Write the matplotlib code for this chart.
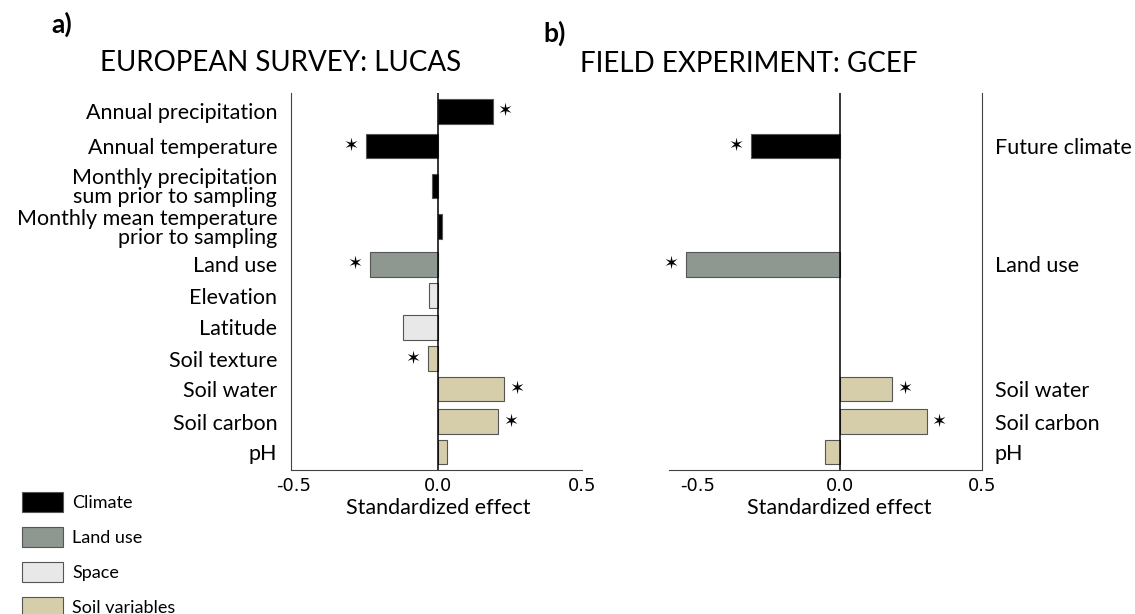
import matplotlib.pyplot as plt
from matplotlib.patches import Patch
from matplotlib.transforms import blended_transform_factory

plt.rcParams['font.family'] = ['Lato', 'DejaVu Sans']

# panel a: LUCAS survey
lucas_labels = ['Annual precipitation', 'Annual temperature',
                'Monthly precipitation\nsum prior to sampling',
                'Monthly mean temperature\nprior to sampling',
                'Land use', 'Elevation', 'Latitude', 'Soil texture',
                'Soil water', 'Soil carbon', 'pH']
lucas_effect = [0.19, -0.25, -0.02, 0.015, -0.235, -0.03, -0.12, -0.035, 0.23, 0.21, 0.03]
lucas_group = ['Climate', 'Climate', 'Climate', 'Climate', 'Land use', 'Space', 'Space',
               'Soil variables', 'Soil variables', 'Soil variables', 'Soil variables']
lucas_sig = [True, True, False, False, True, False, False, True, True, True, False]

# panel b: GCEF field experiment
gcef_labels = ['Future climate', 'Land use', 'Soil water', 'Soil carbon', 'pH']
gcef_effect = [-0.31, -0.54, 0.185, 0.305, -0.05]
gcef_group = ['Climate', 'Land use', 'Soil variables', 'Soil variables', 'Soil variables']
gcef_sig = [True, True, True, True, False]

# row layout (two-line labels get a bit more room)
lucas_rows = [0, 1.06, 2.27, 3.5, 4.64, 5.6, 6.55, 7.5, 8.42, 9.42, 10.33]
gcef_rows = [1.06, 4.64, 8.42, 9.42, 10.33]

colors = {'Climate': '#000000', 'Land use': '#8e9790',
          'Space': '#e8e8e8', 'Soil variables': '#d6ceaa'}

fig = plt.figure(figsize=(11.35, 6.14), dpi=100)
ax1 = fig.add_axes([0.2564, 0.2345, 0.2564, 0.614])
ax2 = fig.add_axes([0.5894, 0.2345, 0.2758, 0.614])


def draw(ax, rows, vals, groups, sig, xlim):
    ax.barh(rows, vals, height=0.75, color=[colors[g] for g in groups],
            edgecolor='#555555', linewidth=0.8, zorder=2)
    ax.axvline(0, color='black', lw=1.1, zorder=3)
    for r, v, s in zip(rows, vals, sig):
        if s:
            ax.annotate('✶', (v, r), xytext=(9 if v > 0 else -11, 0),
                        textcoords='offset points', ha='center', va='center',
                        fontsize=13, family='DejaVu Sans')
    ax.set_xlim(*xlim)
    ax.set_ylim(10.88, -0.55)
    ax.set_xticks([-0.5, 0.0, 0.5])
    ax.set_xticklabels(['-0.5', '0.0', '0.5'], family='DejaVu Sans', fontsize=13)
    ax.tick_params(length=0, pad=5)
    ax.spines['top'].set_visible(False)
    for sp in ax.spines.values():
        sp.set_color('#444444')
    tr = blended_transform_factory(ax.transData, ax.transAxes)
    ax.text(0, -0.1, 'Standardized effect', transform=tr, ha='center', va='center',
            fontsize=15.5)


draw(ax1, lucas_rows, lucas_effect, lucas_group, lucas_sig, (-0.51, 0.5))
ax1.spines['right'].set_visible(False)
ax1.set_yticks(lucas_rows)
ax1.set_yticklabels(lucas_labels, fontsize=15.5, linespacing=0.95)
ax1.tick_params(axis='y', pad=10)

draw(ax2, gcef_rows, gcef_effect, gcef_group, gcef_sig, (-0.6, 0.5))
ax2.spines['left'].set_visible(False)
ax2.yaxis.tick_right()
ax2.set_yticks(gcef_rows)
ax2.set_yticklabels(gcef_labels, fontsize=15.5)
ax2.tick_params(axis='y', pad=9)

fig.text(0.045, 0.96, 'a)', fontsize=19, fontweight='bold', va='center')
fig.text(0.479, 0.945, 'b)', fontsize=19, fontweight='bold', va='center')
fig.text(0.088, 0.898, 'EUROPEAN SURVEY: LUCAS', fontsize=20, va='center')
fig.text(0.511, 0.895, 'FIELD EXPERIMENT: GCEF', fontsize=20, va='center')

handles = [Patch(facecolor=colors[k], edgecolor='#555555', linewidth=0.8, label=k)
           for k in colors]
fig.legend(handles=handles, loc='upper left', bbox_to_anchor=(0.008, 0.22),
           frameon=False, fontsize=13, handlelength=2.3, handleheight=1.35,
           labelspacing=0.82, handletextpad=0.5, borderaxespad=0.3)

fig.savefig('out.png', dpi=100)
